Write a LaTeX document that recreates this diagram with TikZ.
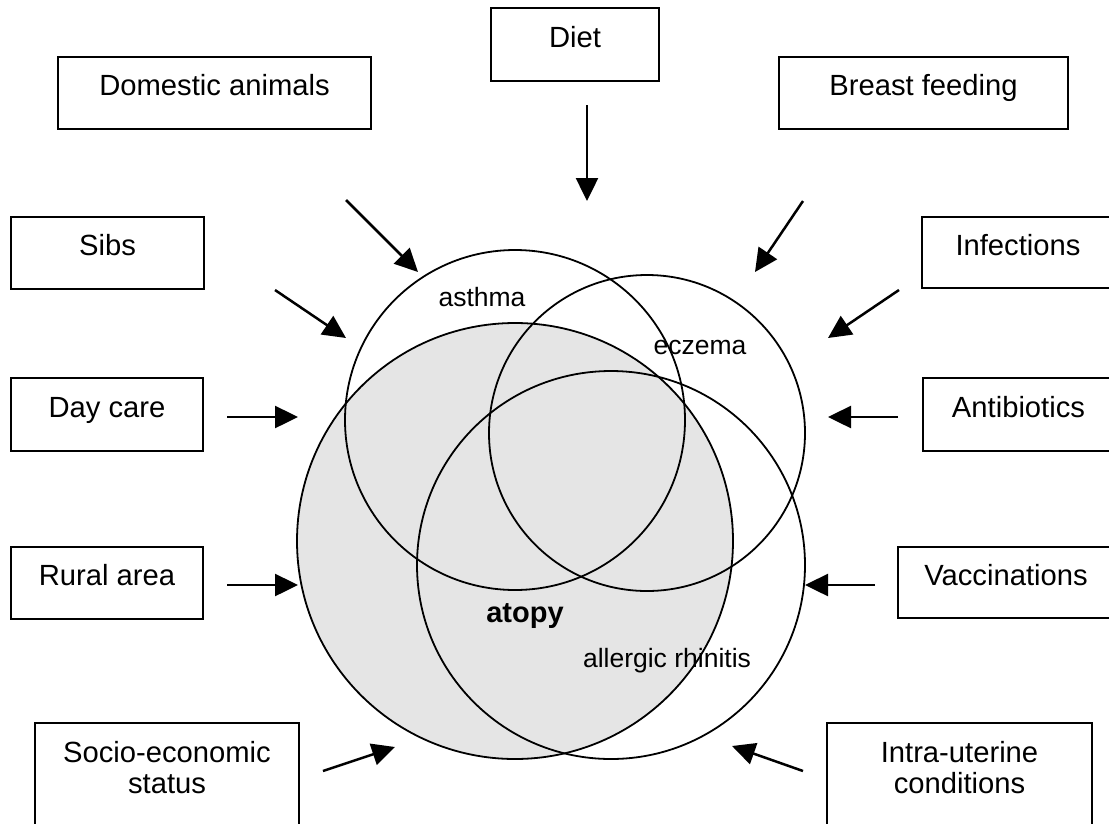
\documentclass[tikz,border=0pt]{standalone}
\usepackage{fontspec}
\setmainfont{Liberation Sans}
\usetikzlibrary{arrows.meta}
\definecolor{atopygray}{RGB}{229,229,229}
\begin{document}
\begin{tikzpicture}[x=1pt,y=-1pt,
  factor/.style={draw, line width=2pt, rectangle, inner sep=0pt, anchor=base,
    font=\fontsize{29.2}{31.5}\selectfont, align=center},
  arr/.style={line width=2.5pt, -{Triangle[length=23pt,width=22pt]}},
  ring/.style={circle, draw, line width=1.8pt, inner sep=0pt},
  lab/.style={anchor=base, inner sep=0pt, font=\fontsize{26.5}{30}\selectfont}]
\useasboundingbox (0,0) rectangle (1109,823);
\clip (0,0) rectangle (1109,823);

% factor boxes
\node[factor, minimum width=313pt, text height=38pt, text depth=34pt] (dom) at (214.5,95) {Domestic animals};
\node[factor, minimum width=168pt, text height=39pt, text depth=34pt] (diet) at (575,47) {Diet};
\node[factor, minimum width=289pt, text height=38pt, text depth=34pt] (breast) at (923.5,95) {Breast feeding};
\node[factor, minimum width=193pt, text height=38pt, text depth=34pt] (sibs) at (107.5,255) {Sibs};
\node[factor, minimum width=192pt, text height=38pt, text depth=33pt] (infect) at (1018,255) {Infections};
\node[factor, minimum width=192pt, text height=39pt, text depth=34pt] (daycare) at (107,417) {Day care};
\node[factor, minimum width=191pt, text height=39pt, text depth=34pt] (antib) at (1018.5,417) {Antibiotics};
\node[factor, minimum width=192pt, text height=38pt, text depth=34pt] (rural) at (107,585) {Rural area};
\node[factor, minimum width=216pt, text height=38pt, text depth=33pt] (vacc) at (1006,585) {Vaccinations};
\node[factor, minimum width=264pt, text height=70.5pt, text depth=66.5pt] (socio) at (167,793.5) {Socio-economic\\status};
\node[factor, minimum width=265pt, text height=70.5pt, text depth=66.5pt] (intra) at (959.5,793.5) {Intra-uterine\\conditions};

% circles
\node[ring, fill=atopygray, minimum size=436pt] (atopy) at (515,541) {};
\node[ring, minimum size=340pt] (asthma) at (515,420) {};
\node[ring, minimum size=316pt] (eczema) at (647,433) {};
\node[ring, minimum size=388pt] (rhinitis) at (611,565) {};

% circle labels
\node[lab] (asthmalab) at (482,306) {asthma};
\node[lab] (eczemalab) at (700,354) {eczema};
\node[lab, font=\fontsize{29}{32}\selectfont\bfseries] (atopylab) at (525,622) {atopy};
\node[lab] (rhinitislab) at (667,667) {allergic rhinitis};

% arrow end points
\coordinate (domT) at (346,200);    \coordinate (domH) at (418,272);
\coordinate (sibsT) at (275,290);   \coordinate (sibsH) at (346,338);
\coordinate (dietT) at (587,105);   \coordinate (dietH) at (587,201);
\coordinate (breastT) at (803,201); \coordinate (breastH) at (755,272);
\coordinate (infT) at (899,290);    \coordinate (infH) at (828,338);
\coordinate (dayT) at (227,417);    \coordinate (dayH) at (298,417);
\coordinate (antT) at (898,417);    \coordinate (antH) at (828,417);
\coordinate (rurT) at (227,585);    \coordinate (rurH) at (298,585);
\coordinate (vacT) at (875,585);    \coordinate (vacH) at (805,585);
\coordinate (socT) at (323,771);    \coordinate (socH) at (395,747);
\coordinate (intT) at (803,771);    \coordinate (intH) at (732,746);

\draw[arr] (domT) -- (domH);
\draw[arr] (sibsT) -- (sibsH);
\draw[arr] (dietT) -- (dietH);
\draw[arr] (breastT) -- (breastH);
\draw[arr] (infT) -- (infH);
\draw[arr] (dayT) -- (dayH);
\draw[arr] (antT) -- (antH);
\draw[arr] (rurT) -- (rurH);
\draw[arr] (vacT) -- (vacH);
\draw[arr] (socT) -- (socH);
\draw[arr] (intT) -- (intH);
\end{tikzpicture}
\end{document}
